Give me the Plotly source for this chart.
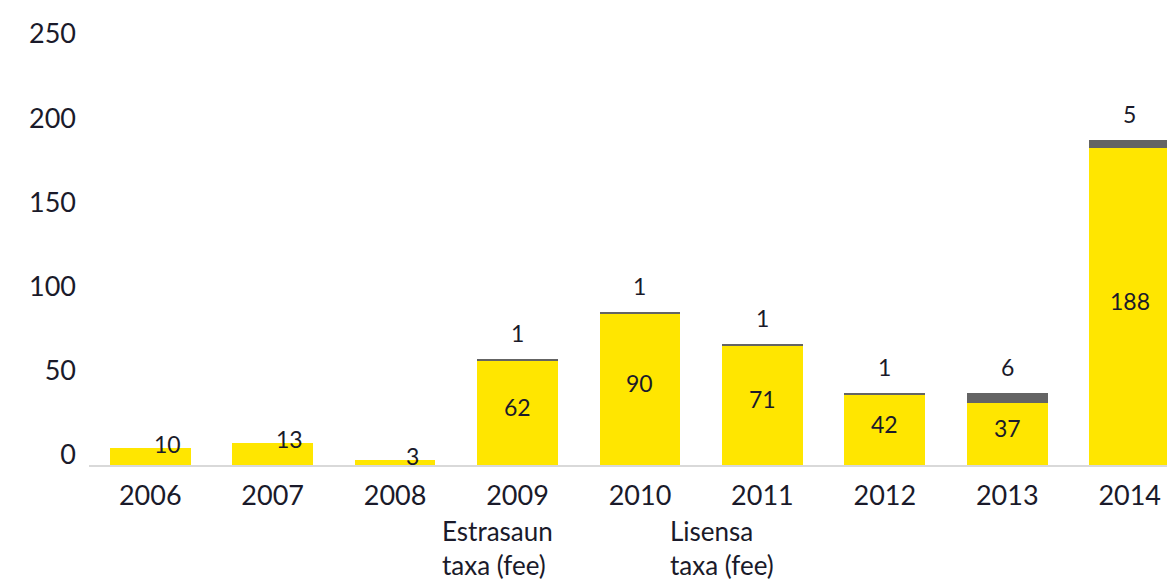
import plotly.graph_objects as go

years = ["2006", "2007", "2008", "2009", "2010", "2011", "2012", "2013", "2014"]
extraction_fee = [10, 13, 3, 62, 90, 71, 42, 37, 188]
license_fee = [0, 0, 0, 1, 1, 1, 1, 6, 5]
legend_labels = ["Estrasaun<br>taxa (fee)", "Lisensa<br>taxa (fee)"]
y_ticks = [0, 50, 100, 150, 200, 250]

YELLOW = "#FFE600"
GREY = "#646464"
TXT = "#1a1a2a"
FONT = "Lato"

fig = go.Figure()
fig.add_trace(go.Bar(x=years, y=extraction_fee, marker=dict(color=YELLOW, line=dict(width=0)),
                     showlegend=False, hoverinfo="skip"))
fig.add_trace(go.Bar(x=years, y=license_fee, marker=dict(color=GREY, line=dict(width=0)),
                     showlegend=False, hoverinfo="skip"))

annotations = []
for i, v in enumerate(extraction_fee):
    small = v < 20
    annotations.append(dict(x=i, y=(v if small else v / 2), text=str(v), showarrow=False,
                            xshift=(17 if small else 0), yshift=(4 if small else 6),
                            font=dict(family=FONT, size=23, color=TXT)))
for i, (a, b) in enumerate(zip(extraction_fee, license_fee)):
    if b > 0:
        annotations.append(dict(x=i, y=a + b, text=str(b), showarrow=False, yshift=26,
                                font=dict(family=FONT, size=23, color=TXT)))
for lbl, xp in zip(legend_labels, [0.323, 0.533]):
    annotations.append(dict(x=xp, y=-0.196, xref="paper", yref="paper", text=lbl,
                            showarrow=False, xanchor="left", yanchor="middle", align="left",
                            font=dict(family=FONT, size=26, color=TXT)))

fig.update_layout(
    width=1175, height=583,
    margin=dict(l=81, r=8, t=29, b=126),
    barmode="stack", bargap=0.34,
    plot_bgcolor="white", paper_bgcolor="white",
    font=dict(family=FONT, color=TXT),
    annotations=annotations,
    xaxis=dict(type="category", range=[-0.5, 8.37], showgrid=False, showline=True,
               linecolor="#D9D9D9", linewidth=2, ticks="",
               tickfont=dict(family=FONT, size=27, color=TXT), ticklabelstandoff=6),
    yaxis=dict(range=[0, 250], tickvals=y_ticks, showgrid=False, zeroline=False,
               showline=False, ticks="", tickfont=dict(family=FONT, size=27, color=TXT),
               ticklabelstandoff=12, ticklabelshift=-10),
)

fig.write_html("out.html")
